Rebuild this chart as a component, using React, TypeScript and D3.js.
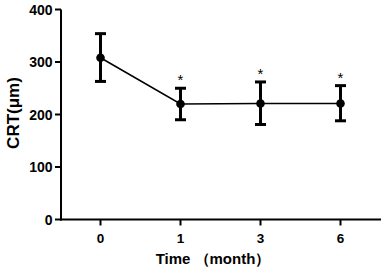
import React from "react";
import * as d3 from "d3";

const categories = ["0", "1", "3", "6"];
const means = [308, 220, 221, 221];
const upper = [354, 250, 262, 255];
const lower = [263, 190, 181, 188];
const significant = [false, true, true, true];
const yTicks = [0, 100, 200, 300, 400];

export default function App() {
  const W = 383, H = 270;
  const x = d3.scalePoint<string>().domain(categories).range([100.5, 340.5]);
  const y = d3.scaleLinear().domain([0, 400]).range([219.5, 9.5]);
  const line = d3.line<number>().x((_, i) => x(categories[i])!).y((d) => y(d));
  const font = "Arial, 'Liberation Sans', sans-serif";
  return (
    <svg width={W} height={H} style={{ position: "absolute", left: 0, top: 0, background: "#fff" }}>
      <g fill="none" stroke="#000">
        <path d={line(means)!} strokeWidth={1.6} />
        {means.map((m, i) => {
          const cx = x(categories[i])!;
          return (
            <g key={i} strokeWidth={3}>
              <line x1={cx} x2={cx} y1={y(upper[i])} y2={y(lower[i])} />
              <line x1={cx - 5.5} x2={cx + 5.5} y1={y(upper[i])} y2={y(upper[i])} />
              <line x1={cx - 5.5} x2={cx + 5.5} y1={y(lower[i])} y2={y(lower[i])} />
            </g>
          );
        })}
      </g>
      {means.map((m, i) => (
        <circle key={i} cx={x(categories[i])!} cy={y(m)} r={4.3} fill="#000" />
      ))}
      {significant.map((s, i) =>
        s ? (
          <text key={i} x={x(categories[i])!} y={y(upper[i]) - 3} textAnchor="middle" fontFamily={font} fontSize={15} fill="#000">
            *
          </text>
        ) : null
      )}
      <g stroke="#000" strokeWidth={2}>
        <line x1={61} x2={61} y1={y(400)} y2={y(0) + 1} />
        <line x1={60} x2={381} y1={y(0)} y2={y(0)} />
        {yTicks.map((t) => (
          <line key={t} x1={55} x2={61} y1={y(t)} y2={y(t)} />
        ))}
        {categories.map((c) => (
          <line key={c} x1={x(c)!} x2={x(c)!} y1={y(0)} y2={y(0) + 6} />
        ))}
      </g>
      {yTicks.map((t) => (
        <text key={t} x={52.5} y={y(t) + 5} textAnchor="end" fontFamily={font} fontWeight="bold" fontSize={14} fill="#000">
          {t}
        </text>
      ))}
      {categories.map((c) => (
        <text key={c} x={x(c)!} y={243} textAnchor="middle" fontFamily={font} fontWeight="bold" fontSize={13.5} fill="#000">
          {c}
        </text>
      ))}
      <text x={213} y={264} textAnchor="middle" fontFamily={font} fontWeight="bold" fontSize={15} fill="#000">
        Time （month）
      </text>
      <text transform="translate(19,113) rotate(-90)" textAnchor="middle" fontFamily={font} fontWeight="bold" fontSize={17} fill="#000">
        CRT(μm)
      </text>
    </svg>
  );
}
